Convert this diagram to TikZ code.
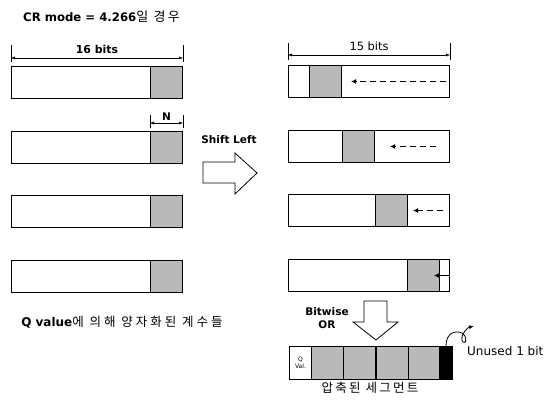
\documentclass[tikz,border=0pt]{standalone}
\usepackage{fontspec}
\setmainfont{DejaVu Sans}
\newfontfamily\krfont[LetterSpace=18]{Noto Sans CJK KR}
\usetikzlibrary{arrows.meta}

\begin{document}
\begin{tikzpicture}[x=1pt, y=-1pt, font=\fontsize{10.5}{12}\selectfont,
    bar/.style={draw, line width=1pt, fill=white, anchor=north west, inner sep=0, minimum height=32, minimum width=#1},
    cell/.style={bar=#1, fill=gray!55},
    dim/.style={{Latex[length=4pt,width=3pt]}-{Latex[length=4pt,width=3pt]}},
    shiftline/.style={line width=1.2pt, dash pattern=on 6pt off 4pt, -{Latex[length=5pt,width=5pt]}},
    lbl/.style={inner sep=0}]
  \useasboundingbox (0,0) rectangle (549,407);

  \node[lbl, anchor=west, font=\fontsize{11.7}{13}\selectfont] (title) at (23,17)
    {\textbf{CR mode = 4.266}{\krfont\fontsize{13}{14}\selectfont 일 경우}};

  % left: 16 bit values
  \foreach \i/\y in {1/66, 2/131, 3/195, 4/260} {
    \node[bar=171] (l\i) at (11,\y) {};
    \node[cell=32] (lc\i) at (150,\y) {};
  }
  \draw[thin] ([yshift=4pt]l1.north west) -- ([yshift=21pt]l1.north west);
  \draw[thin] ([yshift=4pt]l1.north east) -- ([yshift=21pt]l1.north east);
  \draw[dim] ([yshift=8pt]l1.north west) -- node[lbl, above=4pt, font=\fontsize{10.9}{12}\selectfont] {\textbf{16 bits}} ([yshift=8pt]l1.north east);
  \draw[thin] ([yshift=3pt]lc2.north west) -- ([yshift=16pt]lc2.north west);
  \draw[thin] ([yshift=3pt]lc2.north east) -- ([yshift=16pt]lc2.north east);
  \draw[dim] ([yshift=8pt]lc2.north west) -- node[lbl, above=2pt] {\textbf{N}} ([yshift=8pt]lc2.north east);
  \node[lbl, font=\fontsize{12}{13}\selectfont] (qtext) at (122,322)
    {\textbf{Q value}{\krfont\addfontfeature{LetterSpace=24}\fontsize{12.5}{13}\selectfont 에 의해 양자화된 계수들}};

  % shift left
  \node[lbl] (shift) at (229,140) {\textbf{Shift Left}};
  \draw[thick] (203,162) -- (235,162) -- (235,153) -- (257,173) -- (235,194) -- (235,183) -- (203,183) -- cycle;

  % right: 15 bit values
  \foreach \i/\y/\x in {1/65/309, 2/130/342, 3/194/375, 4/259/407} {
    \node[bar=161] (r\i) at (288,\y) {};
    \node[cell=32] (rc\i) at (\x,\y) {};
  }
  \draw[thin] ([yshift=5pt]r1.north west) -- ([yshift=22pt]r1.north west);
  \draw[thin] ([yshift=5pt]r1.north east) -- ([yshift=22pt]r1.north east);
  \draw[dim] ([yshift=10pt]r1.north west) -- node[lbl, above=4pt, font=\fontsize{11.4}{12}\selectfont] {15 bits} ([yshift=10pt]r1.north east);
  \draw[shiftline] ([xshift=-4pt]r1.east) -- ([xshift=9pt]rc1.east);
  \draw[shiftline] ([xshift=-14pt]r2.east) -- ([xshift=15pt]rc2.east);
  \draw[shiftline] ([xshift=-7pt]r3.east) -- ([xshift=5pt]rc3.east);
  \draw[line width=1.2pt, -{Latex[length=5pt,width=5pt]}] (r4.east) -- ([xshift=-6pt]rc4.east);

  % bitwise or
  \node[lbl, align=center] (bor) at (327,318) {\textbf{Bitwise}\\[1pt]\textbf{OR}};
  \draw[thick] (364,301) -- (387,301) -- (387,322) -- (398,322) -- (376,340) -- (353,322) -- (364,322) -- cycle;

  % compressed segment
  \node[bar=22, minimum height=33, font=\fontsize{6}{6.5}\selectfont, align=center] (q) at (289,346) {Q\\Val.};
  \foreach \i/\x in {1/311, 2/343, 3/376, 4/408}
    \node[cell=32, minimum height=33] (s\i) at (\x,346) {};
  \node[bar=13, minimum height=33, fill=black] (k) at (439,346) {};
  \node[lbl, anchor=west, font=\fontsize{12}{13}\selectfont] (unused) at (467,351) {Unused 1 bit};
  \coordinate (ub) at (474,326);
  \draw[thick, -{Latex[length=5pt,width=4pt]}] (k.north) .. controls (446,333) and (455,330) .. (462,333)
    .. controls (468,337) and (466,345) .. (463,342) .. controls (459,338) and (466,328) .. (ub);
  \node[lbl, font=\krfont\fontsize{12.5}{13}\selectfont] (seg) at (370,388) {압축된 세그먼트};
\end{tikzpicture}
\end{document}
